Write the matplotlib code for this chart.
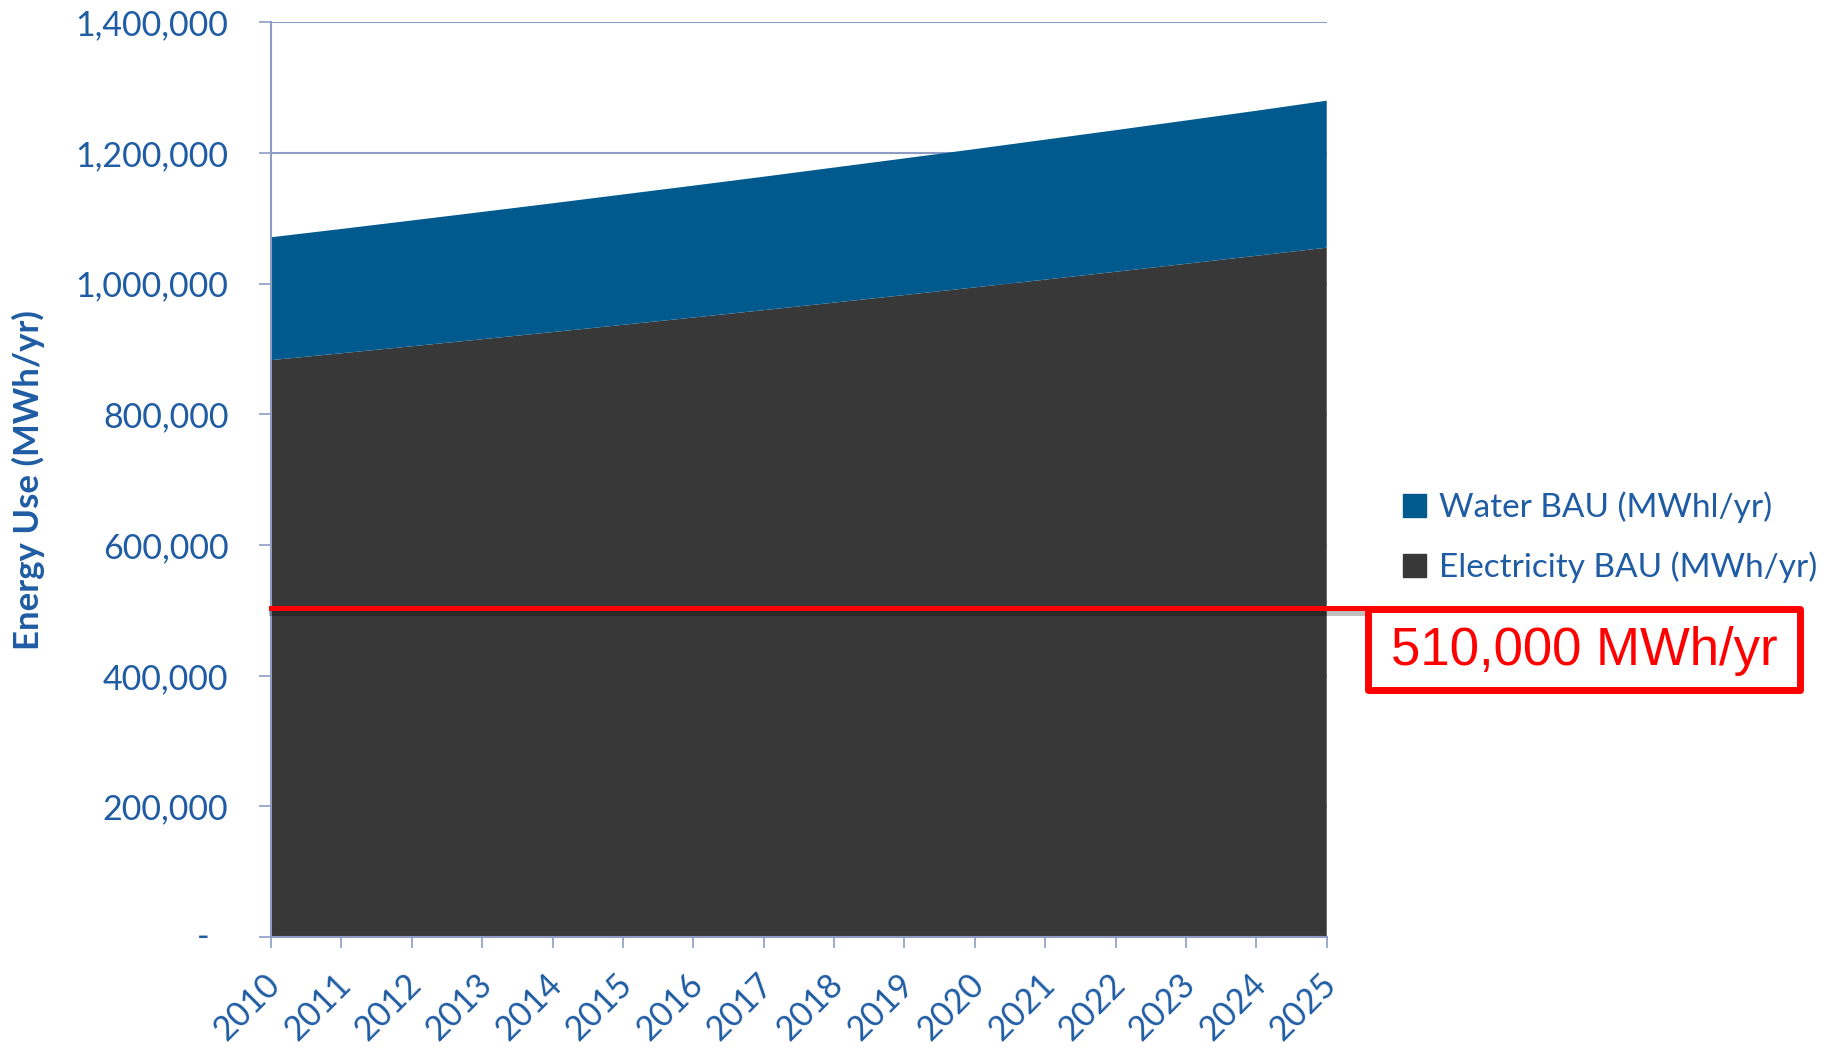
import numpy as np
import matplotlib.pyplot as plt
from matplotlib.patches import Rectangle, Patch
from matplotlib.ticker import FuncFormatter
from matplotlib.transforms import ScaledTranslation
import matplotlib.patheffects as pe

# data (MWh/yr)
years = [2010, 2011, 2012, 2013, 2014, 2015, 2016, 2017,
         2018, 2019, 2020, 2021, 2022, 2023, 2024, 2025]
electricity_bau = [883000, 893500, 904200, 915000, 925900, 937000, 948200, 959500,
                   971000, 982600, 994300, 1006200, 1018200, 1030400, 1042700, 1055100]
water_bau = [188000, 190200, 192500, 194800, 197100, 199500, 201800, 204200,
             206700, 209100, 211600, 214200, 216700, 219300, 221900, 224900]
target = 503000
target_label = "510,000 MWh/yr"
y_ticks = [0, 200000, 400000, 600000, 800000, 1000000, 1200000, 1400000]

BLUE_TXT = "#1f5ca3"
WATER = "#005a8e"
ELEC = "#383838"
AXIS = "#8e9cc6"
RED = "#ff0000"

plt.rcParams['font.family'] = ['Lato', 'DejaVu Sans']

fig = plt.figure(figsize=(18.31, 10.51), dpi=100)
ax = fig.add_axes([0.148, 0.1083, 0.5766, 0.8705])

ax.stackplot(years, electricity_bau, water_bau, colors=[ELEC, WATER],
             labels=["Electricity BAU (MWh/yr)", "Water BAU (MWhl/yr)"])

ax.set_xlim(years[0], years[-1])
ax.set_ylim(0, 1400000)
ax.set_xticks(years)
ax.set_yticks(y_ticks)
ax.yaxis.set_major_formatter(FuncFormatter(lambda v, p: "" if v == 0 else f"{int(v):,}"))
ax.annotate("-", xy=(0, 0), xycoords=("axes fraction", "data"), xytext=(-61, 0),
            textcoords="offset pixels", ha="right", va="center", fontsize=24.5, color=BLUE_TXT)

ax.set_axisbelow(True)
ax.grid(axis="y", color=AXIS, linewidth=1.5)
for s in ["top", "right"]:
    ax.spines[s].set_visible(False)
for s in ["left", "bottom"]:
    ax.spines[s].set_color(AXIS)
    ax.spines[s].set_linewidth(1.5)

ax.tick_params(axis="y", direction="out", length=8.6, width=1.2, color=AXIS,
               labelsize=24.5, labelcolor=BLUE_TXT, pad=22)
ax.tick_params(axis="x", direction="out", length=8, width=1.2, color=AXIS,
               labelsize=24.5, labelcolor=BLUE_TXT, pad=14)
shift = ScaledTranslation(-0.07, 0, fig.dpi_scale_trans)
for lab in ax.get_xticklabels():
    lab.set_rotation(45)
    lab.set_ha("right")
    lab.set_va("top")
    lab.set_rotation_mode("anchor")
    lab.set_transform(lab.get_transform() + shift)

ax.set_ylabel("Energy Use (MWh/yr)", fontsize=25, fontweight="bold", color=BLUE_TXT, labelpad=22)

# target line running out to the callout box
trans = ax.get_yaxis_transform()
ax.plot([0, 1.038], [target, target], transform=trans, color=RED, linewidth=3.6,
        clip_on=False, zorder=5,
        path_effects=[pe.SimpleLineShadow(offset=(0, -3), shadow_color="black", alpha=0.25),
                      pe.Normal()])

fig.add_artist(Rectangle((0.7474, 0.3435), 0.2357, 0.0775, transform=fig.transFigure,
                         fill=False, edgecolor=RED, linewidth=5, joinstyle="round"))
fig.text(0.8655, 0.381, target_label, ha="center", va="center", fontsize=38,
         color=RED, family="Liberation Sans")

handles = [Patch(color=WATER), Patch(color=ELEC)]
fig.legend(handles, ["Water BAU (MWhl/yr)", "Electricity BAU (MWh/yr)"],
           loc="center left", bbox_to_anchor=(0.766, 0.489), frameon=False,
           fontsize=24, labelcolor=BLUE_TXT, handlelength=0.7, handleheight=0.7,
           handletextpad=0.4, labelspacing=0.85, borderpad=0, borderaxespad=0)

plt.savefig("out.png", dpi=100)
